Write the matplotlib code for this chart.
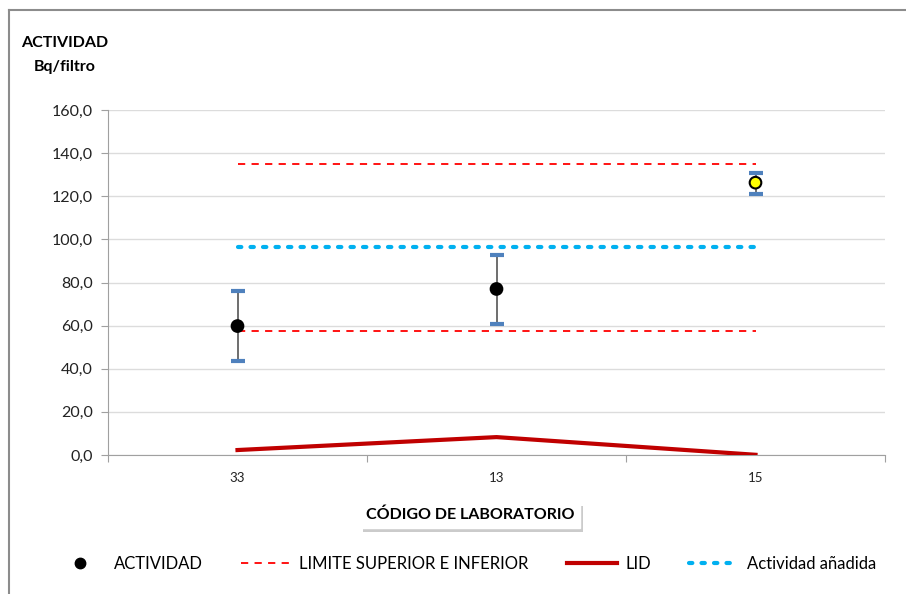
import matplotlib
matplotlib.use("Agg")
import matplotlib.pyplot as plt
import matplotlib.patheffects as pe
from matplotlib.lines import Line2D
import numpy as np

plt.rcParams['font.family'] = ['Lato', 'DejaVu Sans']

labs = ["33", "13", "15"]
actividad = [59.8, 77.0, 126.3]
err_top = [76.1, 92.8, 130.8]
err_bot = [43.6, 60.8, 121.1]
lim_sup = [135.0, 135.0, 135.0]
lim_inf = [57.5, 57.5, 57.5]
lid = [2.3, 8.3, 0.1]
anadida = [96.5, 96.5, 96.5]
point_colors = ["black", "black", "#FFFF00"]

W, H = 906, 594
fig = plt.figure(figsize=(W / 100, H / 100), dpi=100)
ax = fig.add_axes([108 / W, (H - 455) / H, (885 - 108) / W, (455 - 110) / H])

x = np.arange(len(labs)) + 0.5

# grid
ax.set_ylim(0, 160)
ax.set_xlim(0, 3)
ax.set_yticks(np.arange(0, 161, 20))
ax.set_yticklabels([f"{v:.1f}".replace(".", ",") for v in np.arange(0, 161, 20)], fontsize=11.5, color="#222222")
ax.yaxis.grid(True, color="#DCDCDC", lw=1)
ax.set_axisbelow(True)
ax.set_xticks([0, 1, 2, 3])
ax.set_xticklabels([])
ax.set_xticks(x, minor=True)
ax.set_xticklabels(labs, minor=True, fontsize=9.5, color="#222222")
ax.tick_params(axis="x", which="minor", length=0, pad=12)
ax.tick_params(axis="x", which="major", length=5, color="#A0A0A0")
ax.tick_params(axis="y", length=5, color="#A0A0A0", pad=6)
for s in ["top", "right"]:
    ax.spines[s].set_visible(False)
for s in ["left", "bottom"]:
    ax.spines[s].set_color("#A0A0A0")

# lines
ax.plot(x, lim_sup, color="#FF0000", ls=(0, (4, 3.5)), lw=1.3, zorder=3)
ax.plot(x, lim_inf, color="#FF0000", ls=(0, (4, 3.5)), lw=1.3, zorder=3)
ax.plot(x, anadida, color="#00B0F0", ls=(0, (0.8, 2.2)), lw=3, dash_capstyle="round", zorder=3)
ax.plot(x, lid, color="#C00000", lw=3, zorder=3)

# error bars
ax.vlines(x, err_bot, err_top, color="#555555", lw=1.2, zorder=4)
ax.plot(x, err_top, ls="none", marker="_", ms=10, mew=3, color="#4F81BD", zorder=5)
ax.plot(x, err_bot, ls="none", marker="_", ms=10, mew=3, color="#4F81BD", zorder=5)
ax.scatter(x, actividad, s=70, c=point_colors, edgecolors="black", linewidths=1.5, zorder=6)

# y title
fig.text(65 / W, 1 - 43 / H, "ACTIVIDAD", ha="center", va="center", fontsize=11.5, fontweight="bold")
fig.text(65 / W, 1 - 67 / H, "Bq/filtro", ha="center", va="center", fontsize=11.5, fontweight="bold")

# x title in shadowed box
t = fig.text(470 / W, 1 - 515 / H, "CÓDIGO DE LABORATORIO", ha="center", va="center",
             fontsize=11.5, fontweight="bold",
             bbox=dict(boxstyle="square,pad=0.35", fc="white", ec="white"))
t.get_bbox_patch().set_path_effects([pe.withSimplePatchShadow(offset=(2, -3), shadow_rgbFace="#999999", alpha=0.5)])

# legend
handles = [
    Line2D([], [], ls="none", marker="o", ms=7.5, color="black"),
    Line2D([], [], color="#FF0000", ls=(0, (4, 3.5)), lw=1.3),
    Line2D([], [], color="#C00000", lw=3),
    Line2D([], [], color="#00B0F0", ls=(0, (0.8, 2.2)), lw=3, dash_capstyle="round"),
]
names = ["ACTIVIDAD", "LIMITE SUPERIOR E INFERIOR", "LID", "Actividad añadida"]
fig.legend(handles, names, loc="center", bbox_to_anchor=(466 / W, 1 - 564 / H), ncol=4,
           frameon=False, fontsize=12, handlelength=3.0, columnspacing=2.3, handletextpad=0.5)

# outer frame
fig.add_artist(Line2D([9 / W, 9 / W], [0, 1 - 10 / H], color="#8C8C8C", lw=1.5, transform=fig.transFigure))
fig.add_artist(Line2D([9 / W, 1], [1 - 10 / H, 1 - 10 / H], color="#8C8C8C", lw=1.5, transform=fig.transFigure))

fig.savefig("out.png", dpi=100, facecolor="white")
